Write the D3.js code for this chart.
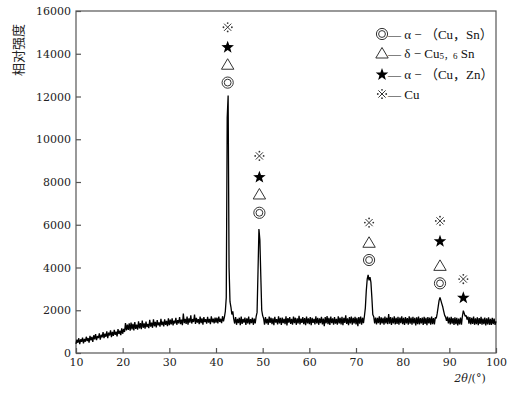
<!DOCTYPE html>
<html lang="zh">
<head>
    <meta charset="UTF-8">
    <title>XRD</title>
    <script src="https://d3js.org/d3.v7.min.js"></script>
    <style>
        body { margin: 0; background: #fff; }
    </style>
</head>
<body>
    <div id="chart"></div>
    <script>
        // scan: 10 deg to 100 deg, one reading every 0.2 deg
        const scanStart = 10;
        const scanStep = 0.2;
        const seg10 = [430,620,480,690,410,640,520,720,450,660, 530,760,560,700,480,800,590,750,520,830,
            640,880,600,790,700,920,620,850,730,980, 700,900,760,1010,690,950,820,1060,740,990,
            800,1080,850,1000,780,1120,890,1050,840,1150];
        const seg20 = [900,1130,980,1400,1060,1330,1080,1390,1040,1420, 1100,1360,1060,1450,1130,1330,1090,1480,1150,1400,
            1120,1520,1180,1390,1140,1470,1210,1360,1160,1550, 1230,1420,1180,1580,1250,1460,1200,1540,1290,1430,
            1230,1600,1300,1470,1240,1570,1320,1500,1260,1620];
        const seg30 = [1300,1560,1340,1620,1290,1510,1380,1650,1320,1540, 1390,1680,1350,1560,1300,1850,1400,1600,1360,1700,
            1330,1620,1420,1760,1380,1590,1450,1800,1360,1640, 1420,1580,1350,1700,1400,1620,1330,1680,1450,1580,
            1370,1690,1420,1600,1350,1720,1440,1610,1380,1660];
        const seg40 = [1420,1650,1380,1700,1450,1600,1400,1720,1480,1680, 1950,2600,11000,12050,4000,2400,2150,1800,1950,1600,
            1380,1680,1320,1600,1400,1650,1300,1700,1360,1590, 1420,1660,1310,1620,1380,1700,1340,1580,1400,1650,
            1320,1610,1380,1700,1900,3800,5800,5300,3600,2000];
        const seg50 = [1750,1620,1330,1680,1390,1600,1320,1700,1410,1650, 1350,1620,1300,1690,1420,1580,1340,1710,1380,1640,
            1310,1660,1400,1600,1350,1720,1290,1630,1420,1680, 1360,1600,1330,1700,1400,1650,1320,1620,1380,1740,
            1340,1610,1410,1680,1350,1630,1300,1700,1390,1620];
        const seg60 = [1350,1680,1300,1640,1410,1600,1340,1720,1380,1650, 1320,1620,1400,1690,1340,1610,1260,1680,1390,1730,
            1350,1640,1310,1700,1400,1620,1330,1680,1370,1600, 1330,1710,1390,1650,1340,1690,1300,1640,1410,1760,
            1360,1620,1300,1680,1380,1700,1330,1640,1380,1690];
        const seg70 = [1340,1640,1250,1680,1370,1700,1320,1650,1400,1720, 2100,2900,3450,3650,3400,3550,3300,2600,1800,1700,
            1380,1660,1340,1640,1400,1720,1330,1670,1380,1640, 1320,1700,1390,1650,1350,1820,1370,1680,1310,1660,
            1380,1710,1340,1640,1360,1690,1320,1660,1400,1720];
        const seg80 = [1350,1650,1310,1680,1390,1630,1330,1710,1370,1660, 1320,1690,1380,1640,1290,1670,1350,1700,1340,1630,
            1380,1660,1310,1690,1360,1640,1300,1680,1390,1650, 1330,1700,1350,1630,1340,1670,1620,1850,2150,2450,
            2600,2450,2300,2150,1950,1760,1680,1500,1700,1380];
        const seg90 = [1660,1340,1690,1370,1630,1310,1670,1350,1640,1290, 1610,1340,1660,1320,1720,1980,1850,1720,1760,1560,
            1700,1370,1680,1340,1640,1360,1700,1320,1620,1350, 1670,1300,1630,1360,1690,1330,1610,1350,1660,1290,
            1620,1340,1670,1320,1600,1310,1650,1350,1610,1320, 1480];

        const xTicks = [10, 20, 30, 40, 50, 60, 70, 80, 90, 100];
        const yTicks = [0, 2000, 4000, 6000, 8000, 10000, 12000, 14000, 16000];

        // phase marks above the peaks: [2theta, intensity]
        const markCuSn = [[42.5, 12650], [49.3, 6560], [72.8, 4350], [88.0, 3260]];
        const markDelta = [[42.5, 13510], [49.3, 7440], [72.8, 5180], [88.0, 4100]];
        const markCuZn = [[42.5, 14330], [49.3, 8250], [88.0, 5250], [93.0, 2610]];
        const markCu = [[42.5, 15240], [49.3, 9220], [72.8, 6100], [88.0, 6180], [93.0, 3460]];

        const counts = [].concat(seg10, seg20, seg30, seg40, seg50, seg60, seg70, seg80, seg90);
        const data = counts.map((v, i) => ({ t: scanStart + i * scanStep, v: v }));

        const width = 518, height = 393;
        const margin = { top: 11, right: 22, bottom: 40, left: 76 };

        const svg = d3.select("#chart")
            .append("svg")
            .attr("width", width)
            .attr("height", height);

        const x = d3.scaleLinear()
            .domain([10, 100])
            .range([margin.left, width - margin.right]);

        const y = d3.scaleLinear()
            .domain([0, 16000])
            .range([height - margin.bottom, margin.top]);

        const axisColor = "#555";
        const tickFont = "'DejaVu Serif', serif";
        const markColor = "#333";

        // frame
        svg.append("rect")
            .attr("x", x(10))
            .attr("y", y(16000))
            .attr("width", x(100) - x(10))
            .attr("height", y(0) - y(16000))
            .attr("fill", "none")
            .attr("stroke", axisColor)
            .attr("stroke-width", 1.2);

        const gx = svg.append("g")
            .attr("transform", `translate(0,${y(0)})`)
            .call(d3.axisBottom(x).tickValues(xTicks).tickFormat(d3.format("d"))
                .tickSizeInner(-5).tickSizeOuter(0).tickPadding(5));

        const gy = svg.append("g")
            .attr("transform", `translate(${x(10)},0)`)
            .call(d3.axisLeft(y).tickValues(yTicks).tickFormat(d3.format("d"))
                .tickSizeInner(-5).tickSizeOuter(0).tickPadding(5));

        [gx, gy].forEach(g => {
            g.select(".domain").remove();
            g.selectAll("line").attr("stroke", axisColor).attr("stroke-width", 1.2);
            g.selectAll("text")
                .attr("fill", "#222")
                .style("font-family", tickFont)
                .style("font-size", "11px");
        });

        // pattern
        const line = d3.line()
            .x(d => x(d.t))
            .y(d => y(d.v));

        svg.append("path")
            .datum(data)
            .attr("fill", "none")
            .attr("stroke", "#000")
            .attr("stroke-width", 1.3)
            .attr("stroke-linejoin", "bevel")
            .attr("d", line);

        // symbol drawers, centred on (0,0)
        function drawRings(g) {
            g.append("circle").attr("r", 5.6).attr("fill", "none").attr("stroke", markColor).attr("stroke-width", 1);
            g.append("circle").attr("r", 3.4).attr("fill", "none").attr("stroke", markColor).attr("stroke-width", 1);
        }
        function drawTriangle(g) {
            g.append("path").attr("d", "M0,-5.5L6.2,5L-6.2,5Z")
                .attr("fill", "none").attr("stroke", markColor).attr("stroke-width", 1);
        }
        function drawStar(g) {
            const pts = d3.range(10).map(k => {
                const r = k % 2 ? 2.7 : 6.6;
                const a = k * Math.PI / 5 - Math.PI / 2;
                return [r * Math.cos(a), r * Math.sin(a) + 0.6];
            });
            g.append("path").attr("d", "M" + pts.join("L") + "Z").attr("fill", "#000");
        }
        function drawKome(g) {
            g.append("path").attr("d", "M-3.6,-3.6L3.6,3.6M-3.6,3.6L3.6,-3.6")
                .attr("stroke", markColor).attr("stroke-width", 1);
            [[0, -4.2], [4.2, 0], [0, 4.2], [-4.2, 0]].forEach(p => {
                g.append("circle").attr("cx", p[0]).attr("cy", p[1]).attr("r", 0.9).attr("fill", markColor);
            });
        }

        // phase marks
        const markSets = [
            { pts: markCuSn, draw: drawRings },
            { pts: markDelta, draw: drawTriangle },
            { pts: markCuZn, draw: drawStar },
            { pts: markCu, draw: drawKome }
        ];
        markSets.forEach(s => {
            s.pts.forEach(d => {
                const g = svg.append("g").attr("transform", `translate(${x(d[0])},${y(d[1])})`);
                s.draw(g);
            });
        });

        // legend
        const legend = svg.append("g")
            .attr("transform", "translate(382,34)")
            .style("font-family", "'Liberation Serif', 'Noto Sans CJK SC', serif")
            .style("font-size", "13px")
            .attr("fill", "#111");

        const legendRows = [0, 19, 40, 60];
        markSets.forEach((s, i) => {
            s.draw(legend.append("g").attr("transform", `translate(0,${legendRows[i]})`));
        });

        const lt = (i) => legend.append("text")
            .attr("x", 6)
            .attr("y", legendRows[i])
            .attr("dominant-baseline", "central");

        lt(0).text("— α − （Cu，Sn）");
        const t1 = lt(1);
        t1.append("tspan").text("— δ − Cu");
        t1.append("tspan").attr("font-size", "9px").attr("dy", 3).text("5，6");
        t1.append("tspan").attr("dy", -3).text(" Sn");
        lt(2).text("— α − （Cu，Zn）");
        lt(3).text("— Cu");

        // axis titles
        svg.append("text")
            .attr("transform", `translate(17,${50}) rotate(-90)`)
            .attr("text-anchor", "middle")
            .attr("dominant-baseline", "central")
            .style("font-family", "'Noto Sans CJK SC', sans-serif")
            .style("font-size", "13px")
            .attr("fill", "#222")
            .text("相对强度");

        const xt = svg.append("text")
            .attr("x", 470)
            .attr("y", 378)
            .attr("text-anchor", "middle")
            .attr("dominant-baseline", "central")
            .style("font-family", tickFont)
            .style("font-size", "11px")
            .attr("fill", "#222");
        xt.append("tspan").style("font-style", "italic").text("2θ");
        xt.append("tspan").text("/(°)");
    </script>
</body>
</html>
